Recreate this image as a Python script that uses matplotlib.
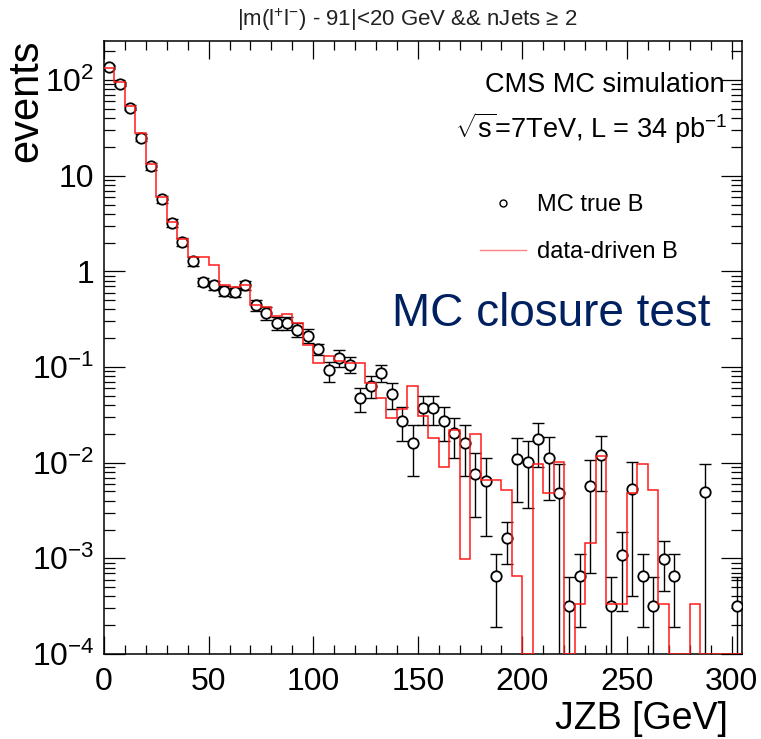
import numpy as np
import matplotlib
matplotlib.use("Agg")
import matplotlib.pyplot as plt
from matplotlib.lines import Line2D
from matplotlib.ticker import MultipleLocator, FixedLocator, FuncFormatter, NullFormatter

plt.rcParams['font.family'] = ['Liberation Sans', 'DejaVu Sans']
plt.rcParams['mathtext.fontset'] = 'custom'
plt.rcParams['mathtext.rm'] = 'Liberation Sans'
plt.rcParams['mathtext.it'] = 'Liberation Sans:italic'
plt.rcParams['mathtext.bf'] = 'Liberation Sans:bold'
plt.rcParams['mathtext.sf'] = 'Liberation Sans'

# JZB binning: 5 GeV bins from 0 to 305 GeV
bin_edges = np.arange(0, 310, 5)

# MC true B (per bin, 0 = empty bin)
mc_true = np.array([
    138, 91, 51.6, 25, 12.5, 5.7, 3.19, 2.02, 1.27, 0.78,
    0.72, 0.625, 0.605, 0.715, 0.447, 0.368, 0.288, 0.29, 0.246, 0.212,
    0.154, 0.092, 0.124, 0.106, 0.047, 0.064, 0.087, 0.052, 0.0273, 0.016,
    0.037, 0.037, 0.0273, 0.0203, 0.016, 0.0077, 0.0065, 0.00065, 0.00162, 0.0109,
    0.0102, 0.0176, 0.0113, 0.00486, 0.00032, 0.00065, 0.0057, 0.012, 0.00032, 0.00108,
    0.0053, 0.00065, 0.00032, 0.00098, 0.00065, 0, 0, 0.0049, 0, 0,
    0.00032,
])

# statistical uncertainty on MC true B
mc_err = np.array([
    6, 5, 3.5, 2, 1.1, 0.5, 0.3, 0.2, 0.13, 0.08,
    0.075, 0.07, 0.07, 0.08, 0.06, 0.055, 0.045, 0.045, 0.04, 0.035,
    0.02, 0.022, 0.025, 0.02, 0.0135, 0.016, 0.018, 0.016, 0.0105, 0.0088,
    0.0125, 0.0125, 0.0105, 0.009, 0.0088, 0.005, 0.0048, 0.00046, 0.00075, 0.007,
    0.0068, 0.0085, 0.0072, 0.0049, 0.00032, 0.00046, 0.005, 0.007, 0.00032, 0.0008,
    0.0049, 0.00046, 0.00032, 0.00052, 0.00046, 0, 0, 0.0049, 0, 0,
    0.00032,
])

# data-driven B prediction
data_driven = np.array([
    134, 95, 53, 28, 13.3, 6.0, 3.3, 2.2, 1.41, 1.41,
    1.17, 0.72, 0.68, 0.72, 0.44, 0.42, 0.34, 0.36, 0.29, 0.17,
    0.109, 0.13, 0.115, 0.109, 0.109, 0.068, 0.047, 0.029, 0.036, 0.063,
    0.031, 0.018, 0.0091, 0.022, 0.00098, 0.0198, 0.0066, 0.0066, 0.0052, 0.00066,
    0, 0.0098, 0.0048, 0.0101, 0, 0.00033, 0.00145, 0.0118, 0.00033, 0.00033,
    0.0048, 0.0098, 0.0052, 0.00033, 0, 0, 0.00033, 0, 0, 0,
    0,
])

y_min, y_max = 1e-4, 256
decades = [1e-4, 1e-3, 1e-2, 1e-1, 1, 10, 100]

fig = plt.figure(figsize=(7.61, 7.39), dpi=100)
ax = fig.add_axes([104 / 761, 1 - 654 / 739, (742 - 104) / 761, (654 - 41) / 739])
ax.set_yscale('log', nonpositive='clip')

centers = 0.5 * (bin_edges[:-1] + bin_edges[1:])
filled = mc_true > 0

ax.errorbar(centers[filled], mc_true[filled], yerr=mc_err[filled], fmt='none',
            ecolor='black', elinewidth=1.0, capsize=4, capthick=1.0, zorder=2)
ax.plot(centers[filled], mc_true[filled], 'o', ms=7.5, mfc='white', mec='black',
        mew=1.3, zorder=3, linestyle='none')

# empty bins of the prediction sit on the frame minimum
ax.stairs(np.where(data_driven > 0, data_driven, y_min), bin_edges, baseline=None,
          color='#ff1a1a', lw=1.1, zorder=4)

ax.set_xlim(0, 305)
ax.set_ylim(y_min, y_max)

ax.xaxis.set_major_locator(MultipleLocator(50))
ax.xaxis.set_minor_locator(MultipleLocator(10))
ax.yaxis.set_major_locator(FixedLocator(decades))
minor_y = [m * d for d in decades for m in range(2, 10) if m * d < y_max]
ax.yaxis.set_minor_locator(FixedLocator(minor_y))
ax.yaxis.set_minor_formatter(NullFormatter())


def decade_label(v, pos):
    e = int(round(np.log10(v)))
    if e == 0:
        return '1'
    if e == 1:
        return '10'
    return r'$10^{%d}$' % e


ax.yaxis.set_major_formatter(FuncFormatter(decade_label))

ax.tick_params(which='both', direction='in', top=True, right=True, width=0.9,
               labelsize=23, colors='black')
ax.tick_params(axis='x', which='major', length=13, pad=9)
ax.tick_params(axis='x', which='minor', length=6.5)
ax.tick_params(axis='y', which='major', length=15, pad=7)
ax.tick_params(axis='y', which='minor', length=8)
for sp in ax.spines.values():
    sp.set_linewidth(1.1)

# header and annotations
fig.text(0.535, 0.973, r'|m($\mathrm{l}^{+}\mathrm{l}^{-}$) - 91|<20 GeV && nJets ≥ 2',
         ha='center', va='center', fontsize=16, color='#222222')
fig.text(725 / 761, 1 - 92 / 739, 'CMS MC simulation', ha='right', va='baseline',
         fontsize=19.5)
fig.text(727 / 761, 1 - 138 / 739, r'$\sqrt{\mathrm{s}}$=7TeV, L = 34 $\mathrm{pb}^{-1}$',
         ha='right', va='baseline', fontsize=19.5)

# legend
fig.add_artist(Line2D([503 / 761], [1 - 203 / 739], marker='o', ms=5, mfc='white',
                      mec='black', mew=1.0, linestyle='none'))
fig.text(537 / 761, 1 - 211 / 739, 'MC true B', ha='left', va='baseline', fontsize=17)
fig.add_artist(Line2D([480 / 761, 526 / 761], [1 - 250 / 739, 1 - 250 / 739],
                      color='#ff8080', lw=1.0))
fig.text(537 / 761, 1 - 258 / 739, 'data-driven B', ha='left', va='baseline', fontsize=17)

fig.text(392 / 761, 1 - 326 / 739, 'MC closure test', ha='left', va='baseline',
         fontsize=33, color='#002060')

# axis titles
fig.text(26 / 761, 1 - 40 / 739, 'events', rotation=90, ha='center', va='top', fontsize=30)
fig.text(728 / 761, 1 - 729 / 739, 'JZB [GeV]', ha='right', va='baseline', fontsize=27)

fig.savefig('out.png', dpi=100)
